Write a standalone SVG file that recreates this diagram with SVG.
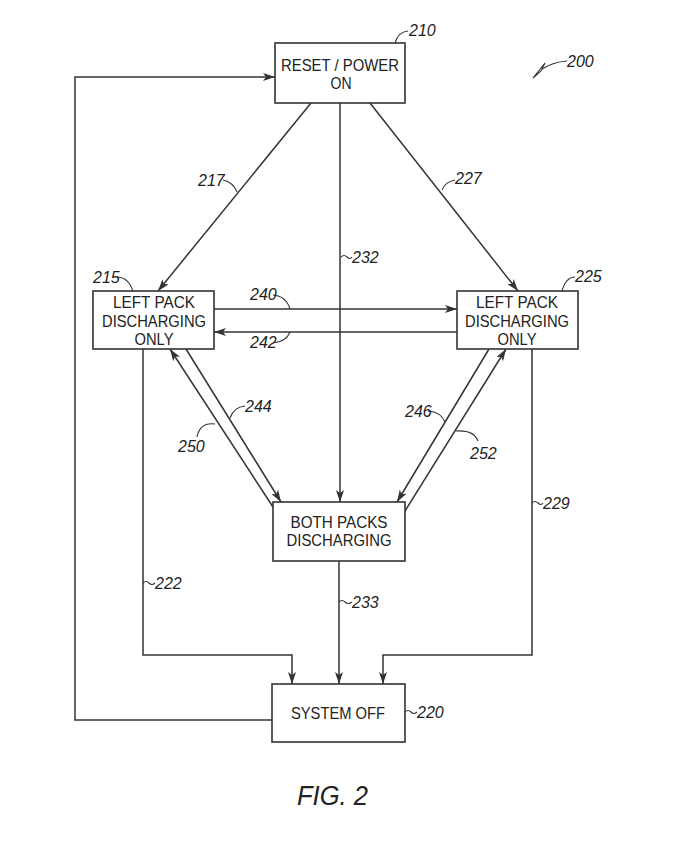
<svg xmlns="http://www.w3.org/2000/svg" width="679" height="853" viewBox="0 0 679 853">
<style>
.box{fill:#fff;stroke:#333;stroke-width:1.6}
.ln{fill:none;stroke:#333;stroke-width:1.5}
.ld{fill:none;stroke:#333;stroke-width:1.1}
.t{font-family:"Liberation Sans",Arial,sans-serif;font-size:17px;fill:#222;text-anchor:middle}
.n{font-family:"Liberation Sans",Arial,sans-serif;font-size:16px;font-style:italic;fill:#222}
.fig{font-family:"Liberation Sans",Arial,sans-serif;font-size:27px;font-style:italic;fill:#222}
</style>
<defs>
<marker id="ah" viewBox="0 0 12 8" refX="12" refY="4" markerWidth="12" markerHeight="8" markerUnits="userSpaceOnUse" orient="auto">
<path d="M0,0 L12,4 L0,8 L3,4 Z" fill="#333"/>
</marker>
</defs>
<rect width="679" height="853" fill="#fff"/>
<g id="connectors">
<path class="ln" d="M272,720 H75 V77 H275" marker-end="url(#ah)"/>
<path class="ln" d="M311,103 L158,291" marker-end="url(#ah)"/>
<path class="ln" d="M370,103 L518,291" marker-end="url(#ah)"/>
<path class="ln" d="M340,103 V502" marker-end="url(#ah)"/>
<path class="ln" d="M214,309 H457" marker-end="url(#ah)"/>
<path class="ln" d="M457,332 H214" marker-end="url(#ah)"/>
<path class="ln" d="M186,349 L281,502" marker-end="url(#ah)"/>
<path class="ln" d="M273,507 L170,349" marker-end="url(#ah)"/>
<path class="ln" d="M489,349 L397,502" marker-end="url(#ah)"/>
<path class="ln" d="M405,511 L506,349" marker-end="url(#ah)"/>
<path class="ln" d="M143,349 V655 H292 V684" marker-end="url(#ah)"/>
<path class="ln" d="M339,561 V684" marker-end="url(#ah)"/>
<path class="ln" d="M532,349 V655 H383 V684" marker-end="url(#ah)"/>
</g>
<g id="labels">
<path class="ld" d="M395,43 Q398,32 408,31"/><text class="n" x="409" y="36">210</text>
<path class="ld" d="M533,78 L545,63 L541,71 Z"/><path class="ld" d="M542,69 Q553,62 567,61"/><text class="n" x="567" y="67">200</text>
<path class="ld" d="M223,180 Q233,182 237,192"/><text class="n" x="198" y="186">217</text>
<path class="ld" d="M455,180 Q445,182 442,190"/><text class="n" x="455" y="184">227</text>
<path class="ld" d="M341,257 Q344,254 347,257 Q350,260 352,257"/><text class="n" x="352" y="263">232</text>
<path class="ld" d="M117,277 Q128,277 133,291"/><text class="n" x="93" y="283">215</text>
<path class="ld" d="M562,291 Q566,277 575,277"/><text class="n" x="575" y="282">225</text>
<path class="ld" d="M273,295 Q286,296 290,309"/><text class="n" x="250" y="300">240</text>
<path class="ld" d="M273,343 Q286,342 290,332"/><text class="n" x="250" y="348">242</text>
<path class="ld" d="M245,406 Q234,407 230,418"/><text class="n" x="245" y="412">244</text>
<path class="ld" d="M197,437 Q200,422 215,424"/><text class="n" x="178" y="452">250</text>
<path class="ld" d="M428,411 Q441,412 445,422"/><text class="n" x="405" y="417">246</text>
<path class="ld" d="M478,441 Q474,430 456,431"/><text class="n" x="470" y="459">252</text>
<path class="ld" d="M532,503 Q535,500 538,503 Q541,506 543,503"/><text class="n" x="543" y="509">229</text>
<path class="ld" d="M143,583 Q146,580 149,583 Q152,586 155,583"/><text class="n" x="155" y="589">222</text>
<path class="ld" d="M339,602 Q342,599 345,602 Q348,605 352,602"/><text class="n" x="352" y="608">233</text>
<path class="ld" d="M405,712 Q408,709 411,712 Q414,715 417,712"/><text class="n" x="417" y="718">220</text>
</g>
<g id="n210">
<rect class="box" x="275" y="43" width="130" height="60"/>
<text class="t" x="340" y="71" textLength="118" lengthAdjust="spacingAndGlyphs">RESET / POWER</text>
<text class="t" x="341" y="89" textLength="21" lengthAdjust="spacingAndGlyphs">ON</text>
</g>
<g id="n215">
<rect class="box" x="93" y="291" width="121" height="58"/>
<text class="t" x="154" y="308" textLength="82" lengthAdjust="spacingAndGlyphs">LEFT PACK</text>
<text class="t" x="154" y="327" textLength="104" lengthAdjust="spacingAndGlyphs">DISCHARGING</text>
<text class="t" x="154" y="345" textLength="39" lengthAdjust="spacingAndGlyphs">ONLY</text>
</g>
<g id="n225">
<rect class="box" x="457" y="291" width="121" height="58"/>
<text class="t" x="517" y="308" textLength="82" lengthAdjust="spacingAndGlyphs">LEFT PACK</text>
<text class="t" x="517" y="327" textLength="104" lengthAdjust="spacingAndGlyphs">DISCHARGING</text>
<text class="t" x="517" y="345" textLength="39" lengthAdjust="spacingAndGlyphs">ONLY</text>
</g>
<g id="n230">
<rect class="box" x="273" y="502" width="132" height="59"/>
<text class="t" x="339" y="528" textLength="97" lengthAdjust="spacingAndGlyphs">BOTH PACKS</text>
<text class="t" x="339" y="546" textLength="105" lengthAdjust="spacingAndGlyphs">DISCHARGING</text>
</g>
<g id="n220">
<rect class="box" x="272" y="684" width="133" height="58"/>
<text class="t" x="338" y="719" textLength="94" lengthAdjust="spacingAndGlyphs">SYSTEM OFF</text>
</g>
<text class="fig" x="297" y="805" textLength="71" lengthAdjust="spacingAndGlyphs">FIG. 2</text>
</svg>
